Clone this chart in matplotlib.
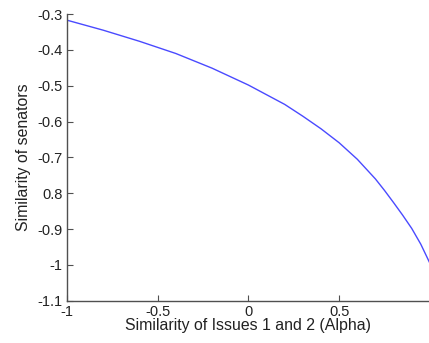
import matplotlib
matplotlib.use("Agg")
import matplotlib.pyplot as plt

# values
alpha = [-1.0, -0.8, -0.6, -0.4, -0.2, 0.0, 0.2, 0.3, 0.4, 0.5, 0.6, 0.7,
         0.75, 0.8, 0.85, 0.9, 0.95, 1.0]
similarity = [-0.317, -0.345, -0.376, -0.410, -0.451, -0.498, -0.552, -0.585,
              -0.620, -0.659, -0.705, -0.760, -0.792, -0.826, -0.861, -0.898,
              -0.942, -0.995]

xticks = [-1, -0.5, 0, 0.5, 1]
xtick_labels = ["-1", "-0.5", "0", "0.5", ""]
yticks = [-1.1, -1.0, -0.9, -0.8, -0.7, -0.6, -0.5, -0.4, -0.3]
ytick_labels = ["-1.1", "-1", "-0.9", "0.8", "-0.7", "-0.6", "-0.5", "-0.4", "-0.3"]

plt.rcParams["font.family"] = ["Liberation Sans", "DejaVu Sans"]

fig = plt.figure(figsize=(4.29, 3.43), dpi=100)
ax = fig.add_axes([0.156, 0.123, 0.846, 0.836])

ax.plot(alpha, similarity, color="#4a4aff", linewidth=1.0)

ax.set_xlim(-1, 1)
ax.set_ylim(-1.1, -0.3)
ax.set_xticks(xticks)
ax.set_xticklabels(xtick_labels)
ax.set_yticks(yticks)
ax.set_yticklabels(ytick_labels)

ax.spines["top"].set_visible(False)
ax.spines["right"].set_visible(False)
for s in ("left", "bottom"):
    ax.spines[s].set_color("#505050")
    ax.spines[s].set_linewidth(1.0)
ax.tick_params(direction="in", length=4, width=0.8, colors="#505050",
               labelcolor="#222222", labelsize=10.5)
ax.tick_params(axis="x", pad=3)
ax.tick_params(axis="y", pad=3)

ax.set_xlabel("Similarity of Issues 1 and 2 (Alpha)", fontsize=11.4,
              color="#222222", labelpad=-1)
ax.set_ylabel("Similarity of senators", fontsize=11.4, color="#222222", labelpad=5)

fig.savefig("out.png", dpi=100)
